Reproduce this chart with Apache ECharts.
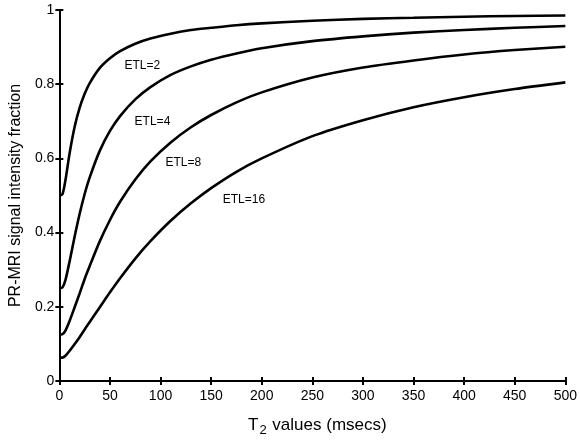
<!DOCTYPE html>
<html>
<head>
<meta charset="utf-8">
<script src="https://cdn.jsdelivr.net/npm/echarts@6/dist/echarts.min.js"></script>
<style>
  html, body { margin: 0; padding: 0; background: #fff; }
  #chart { width: 580px; height: 442px; }
</style>
</head>
<body>
<div id="chart"></div>
<script>
// T2 sample points (msecs)
const t2Values = [0, 3, 6, 10, 15, 20, 25, 30, 40, 50, 60, 75, 90, 110, 130, 150, 175, 200, 250, 300, 350, 400, 450, 500];

// Signal intensity fraction for each echo train length
const etl2 = [0.5, 0.503, 0.541, 0.612, 0.684, 0.736, 0.774, 0.803, 0.844, 0.870, 0.889, 0.909, 0.923, 0.936, 0.946, 0.952, 0.959, 0.964, 0.971, 0.976, 0.979, 0.982, 0.984, 0.985];
const etl4 = [0.25, 0.252, 0.272, 0.321, 0.388, 0.450, 0.504, 0.549, 0.621, 0.674, 0.714, 0.759, 0.792, 0.825, 0.848, 0.866, 0.883, 0.897, 0.916, 0.929, 0.939, 0.946, 0.952, 0.957];
const etl8 = [0.125, 0.126, 0.136, 0.161, 0.198, 0.236, 0.275, 0.310, 0.377, 0.434, 0.483, 0.543, 0.592, 0.643, 0.684, 0.717, 0.751, 0.778, 0.818, 0.845, 0.864, 0.880, 0.892, 0.901];
const etl16 = [0.0625, 0.063, 0.068, 0.081, 0.099, 0.118, 0.139, 0.159, 0.199, 0.239, 0.277, 0.330, 0.377, 0.432, 0.479, 0.520, 0.564, 0.600, 0.660, 0.703, 0.738, 0.765, 0.787, 0.805];

const seriesNames = ['ETL=2', 'ETL=4', 'ETL=8', 'ETL=16'];
const seriesData = [etl2, etl4, etl8, etl16];
// where each curve's name is written (T2, fraction)
const labelAnchors = [[82, 0.849], [92, 0.698], [122.5, 0.589], [182.4, 0.489]];

const xTicks = [0, 50, 100, 150, 200, 250, 300, 350, 400, 450, 500];
const yTicks = ['0', '0.2', '0.4', '0.6', '0.8', '1'];

const FONT = "'Liberation Sans', Arial, Helvetica, sans-serif";
const chart = echarts.init(document.getElementById('chart'), null, { renderer: 'canvas' });

const axisLine = { show: true, lineStyle: { color: '#000', width: 2 } };
const axisTick = { show: true, inside: true, length: 4, lineStyle: { color: '#000', width: 2 } };

const option = {
  backgroundColor: '#fff',
  animation: false,
  grid: { left: 58, right: 13, top: 10, bottom: 49, containLabel: false },
  xAxis: [
    {
      type: 'value', min: 0, max: 500, interval: 50, position: 'bottom',
      axisLine, axisTick, splitLine: { show: false },
      axisLabel: { color: '#000', fontFamily: FONT, fontSize: 14, margin: 8,
        formatter: v => (xTicks.includes(v) ? String(v) : '') },
      name: 'T{sub|2} values (msecs)', nameLocation: 'middle', nameGap: 33,
      nameTextStyle: {
        color: '#000', fontFamily: FONT, fontSize: 17, padding: [0, 0, 0, 10],
        rich: { sub: { fontFamily: FONT, fontSize: 13, color: '#000', verticalAlign: 'bottom', padding: [10, 1, 0, 1] } }
      }
    },
    {
      type: 'value', min: 0, max: 500, interval: 50, position: 'top',
      axisLine, axisTick, splitLine: { show: false }, axisLabel: { show: false }
    }
  ],
  yAxis: [
    {
      type: 'value', min: 0, max: 1, interval: 0.2, position: 'left',
      axisLine, axisTick, splitLine: { show: false },
      axisLabel: { color: '#000', fontFamily: FONT, fontSize: 14, margin: 5,
        formatter: v => yTicks[Math.round(v * 5)] },
      name: 'PR-MRI signal intensity fraction', nameLocation: 'middle', nameGap: 32,
      nameTextStyle: { color: '#000', fontFamily: FONT, fontSize: 16 }
    },
    {
      type: 'value', min: 0, max: 1, interval: 0.2, position: 'right',
      axisLine, axisTick, splitLine: { show: false }, axisLabel: { show: false }
    }
  ],
  series: seriesNames.map((name, i) => ({
    name,
    type: 'line',
    xAxisIndex: 0,
    yAxisIndex: 0,
    data: t2Values.map((t, k) => [t, seriesData[i][k]]),
    showSymbol: false,
    smooth: 0.25,
    lineStyle: { color: '#000', width: 2.6 },
    markPoint: {
      symbol: 'circle', symbolSize: 0,
      data: [{ coord: labelAnchors[i] }],
      label: { show: true, position: 'inside', formatter: name,
        color: '#000', fontFamily: FONT, fontSize: 12 }
    }
  }))
};

chart.setOption(option);
</script>
</body>
</html>
